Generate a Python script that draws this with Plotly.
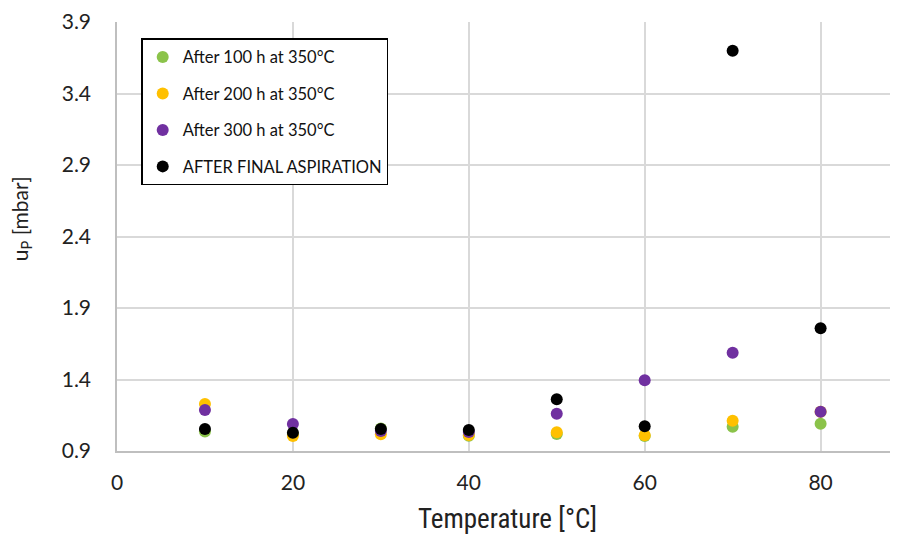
import plotly.graph_objects as go

temperature = [10, 20, 30, 40, 50, 60, 70, 80]
after_100h = [1.036, 1.019, 1.057, 1.007, 1.019, 1.005, 1.070, 1.091]
after_200h = [1.229, 1.005, 1.017, 1.012, 1.031, 1.010, 1.112, 1.175]
after_300h = [1.187, 1.089, 1.040, 1.033, 1.161, 1.394, 1.587, 1.175]
after_final = [1.054, 1.028, 1.054, 1.047, 1.262, 1.073, 3.699, 1.758]

series_names = ["After 100 h at 350°C", "After 200 h at 350°C",
                "After 300 h at 350°C", "AFTER FINAL ASPIRATION"]
series_values = [after_100h, after_200h, after_300h, after_final]
series_colors = ["#8BC34A", "#FFC000", "#7030A0", "#000000"]

y_ticks = [0.9, 1.4, 1.9, 2.4, 2.9, 3.4, 3.9]
x_ticks = [0, 20, 40, 60, 80]

fig = go.Figure()
for i, (name, vals, col) in enumerate(zip(series_names, series_values, series_colors)):
    fig.add_trace(go.Scatter(
        x=temperature, y=vals, mode="markers", name=name,
        legendgroup=f"g{i}",
        marker=dict(size=12, color=col, line=dict(width=0)),
    ))

font_main = "Lato, Calibri, Carlito, sans-serif"

fig.update_layout(
    width=890, height=527,
    margin=dict(l=109, r=0, t=13.5, b=84),
    paper_bgcolor="white", plot_bgcolor="white",
    font=dict(family=font_main, size=20, color="#222222"),
    showlegend=True,
    legend=dict(
        x=0.031, y=0.962, xanchor="left", yanchor="top",
        bordercolor="#000000", borderwidth=1.5, bgcolor="white",
        font=dict(family=font_main, size=16.5, color="#111111"),
        tracegroupgap=12,
    ),
    xaxis=dict(
        range=[0, 88.8], tickvals=x_ticks, ticktext=[str(v) for v in x_ticks],
        showgrid=True, gridcolor="#D9D9D9", gridwidth=1.5,
        showline=True, linecolor="#BFBFBF", linewidth=1.5,
        zeroline=False, ticks="outside", ticklen=12, tickcolor="rgba(0,0,0,0)",
        tickfont=dict(size=21),
    ),
    yaxis=dict(
        range=[0.9, 3.9], tickvals=y_ticks, ticktext=[f"{v:.1f}" for v in y_ticks],
        showgrid=True, gridcolor="#D9D9D9", gridwidth=1.5,
        showline=True, linecolor="#BFBFBF", linewidth=1.5,
        zeroline=False, ticks="outside", ticklen=20, tickcolor="rgba(0,0,0,0)",
        tickfont=dict(size=21),
    ),
    annotations=[
        dict(text="Temperature [°C]", xref="paper", yref="paper",
             x=0.5, y=-0.158, xanchor="center", yanchor="middle", showarrow=False,
             font=dict(family="Liberation Sans Narrow, Roboto Condensed, Arial Narrow, sans-serif",
                       size=27, color="#222222")),
        dict(text="u<sub>P</sub> [mbar]", xref="paper", yref="paper",
             x=-0.123, y=0.5425, xanchor="center", yanchor="middle", showarrow=False,
             textangle=-90,
             font=dict(family=font_main, size=21, color="#222222")),
    ],
)

fig.write_html("out.html", post_script="document.body.style.overflow='hidden';")
